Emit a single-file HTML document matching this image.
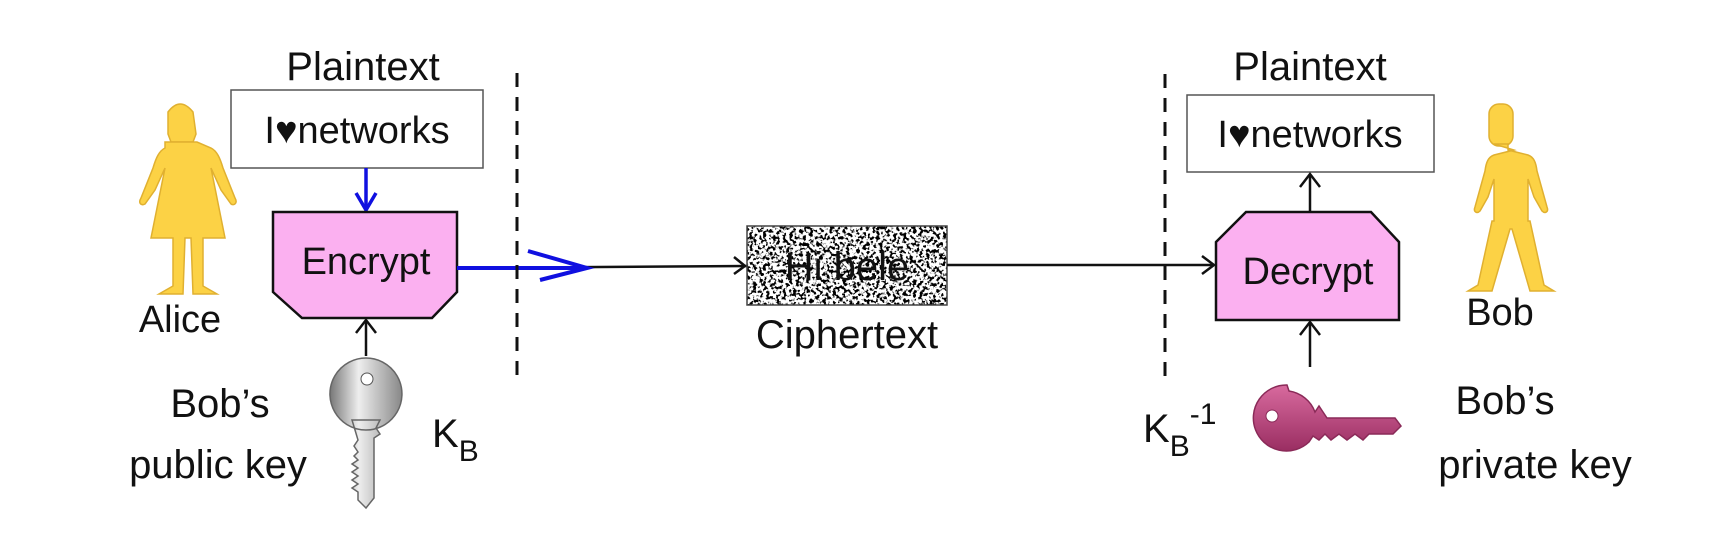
<!DOCTYPE html>
<html><head><meta charset="utf-8"><style>
html,body{margin:0;padding:0;background:#fff;width:1710px;height:544px;overflow:hidden}
text{font-family:"Liberation Sans",sans-serif;fill:#111}
</style></head><body>
<svg width="1710" height="544" viewBox="0 0 1710 544" xmlns="http://www.w3.org/2000/svg">
<defs>
<filter id="noise" x="0" y="0" width="100%" height="100%">
<feTurbulence type="fractalNoise" baseFrequency="0.3" numOctaves="2" seed="3"/>
<feColorMatrix type="matrix" values="0 0 0 0 0  0 0 0 0 0  0 0 0 0 0  0 0 0 -9 4.6"/>
</filter>
<linearGradient id="gk" x1="0" x2="1"><stop offset="0" stop-color="#777"/><stop offset="0.4" stop-color="#eee"/><stop offset="1" stop-color="#888"/></linearGradient>
<linearGradient id="pk" x1="0" y1="0" x2="0" y2="1"><stop offset="0" stop-color="#d86a9e"/><stop offset="1" stop-color="#9a2e62"/></linearGradient>
</defs>
<g font-size="40">
<!-- left -->
<text x="363" y="80" text-anchor="middle">Plaintext</text>
<rect x="231" y="90" width="252" height="78" fill="#fff" stroke="#555" stroke-width="1.5"/>
<text x="357" y="143" text-anchor="middle" font-size="38">I♥networks</text>
<line x1="366" y1="168" x2="366" y2="210" stroke="#1010e0" stroke-width="3.5"/>
<polyline points="356,193 366,210 376,193" fill="none" stroke="#1010e0" stroke-width="3.5"/>
<polygon points="273,212 457,212 457,292 432,318 302,318 273,292" fill="#fbb0f0" stroke="#111" stroke-width="2.5"/>
<text x="366" y="274" text-anchor="middle" font-size="38">Encrypt</text>
<line x1="457" y1="268" x2="747" y2="266" stroke="#111" stroke-width="2.5"/>
<line x1="457" y1="268" x2="585" y2="268" stroke="#1010e0" stroke-width="4"/>
<polyline points="528,251 587,268 540,280" fill="none" stroke="#1010e0" stroke-width="4"/>
<polyline points="734,257 745,266 734,274" fill="none" stroke="#111" stroke-width="2.5"/>
<line x1="517" y1="73" x2="517" y2="375" stroke="#111" stroke-width="3" stroke-dasharray="14,10"/>
<!-- Alice -->
<g fill="#fcd245" stroke="#e0b030" stroke-width="1.5">
<path d="M168,112 q12,-16 25,0 l3,22 l-3,8 l-22,0 l-3,-8z"/>
<path d="M165,142 l32,0 l14,6 c6,3 9,10 12,20 l12,30 c3,5 -1,8 -4,6 l-10,-14 l-10,-22 l14,70 l-22,0 l0,48 l14,8 l-24,0 l-2,-56 l-6,0 l-2,56 l-24,0 l14,-8 l0,-48 l-22,0 l14,-70 l-10,22 l-10,14 c-4,2 -7,-1 -4,-6 l12,-30 c3,-10 6,-17 12,-20z"/>
</g>
<text x="180" y="332" text-anchor="middle" font-size="38">Alice</text>
<!-- key gray -->
<line x1="366" y1="356" x2="366" y2="322" stroke="#111" stroke-width="2.5"/>
<polyline points="356,333 366,320 376,333" fill="none" stroke="#111" stroke-width="2.5"/>
<path d="M366,358 a36,36 0 1 1 -0.1,0z M352,420 l28,0 l-4,8 l4,6 l-6,4 l0,60 l-8,10 l-8,-8 l0,-8 l-6,-4 l6,-4 l-6,-4 l6,-4 l-6,-4 l6,-4 l-6,-4 l6,-4 l-4,-4 l4,-4 l-4,-6 l4,-6 z" fill="url(#gk)" stroke="#666" stroke-width="1.5"/>
<circle cx="367" cy="379" r="6" fill="#fff" stroke="#555"/>
<text x="220" y="417" text-anchor="middle" font-size="40">Bob’s</text>
<text x="218" y="478" text-anchor="middle" font-size="40">public key</text>
<text x="432" y="447" font-size="40">K<tspan font-size="30" dy="14">B</tspan></text>
<!-- middle -->
<rect x="747" y="226" width="200" height="79" fill="#fff"/>
<rect x="747" y="226" width="200" height="79" filter="url(#noise)"/>
<rect x="747" y="226" width="200" height="79" fill="none" stroke="#444" stroke-width="1.5"/>
<text x="847" y="280" text-anchor="middle" font-size="40" font-family="Liberation Serif" fill="#000">Hi bele</text>
<text x="847" y="348" text-anchor="middle">Ciphertext</text>
<line x1="947" y1="265" x2="1214" y2="265" stroke="#111" stroke-width="2.5"/>
<polyline points="1202,256 1214,265 1202,274" fill="none" stroke="#111" stroke-width="2.5"/>
<!-- right -->
<line x1="1165" y1="74" x2="1165" y2="376" stroke="#111" stroke-width="3" stroke-dasharray="14,10"/>
<text x="1310" y="80" text-anchor="middle">Plaintext</text>
<rect x="1187" y="95" width="247" height="77" fill="#fff" stroke="#555" stroke-width="1.5"/>
<text x="1310" y="147" text-anchor="middle" font-size="38">I♥networks</text>
<line x1="1310" y1="212" x2="1310" y2="175" stroke="#111" stroke-width="2.5"/>
<polyline points="1300,187 1310,174 1320,187" fill="none" stroke="#111" stroke-width="2.5"/>
<polygon points="1246,212 1371,212 1399,242 1399,320 1216,320 1216,242" fill="#fbb0f0" stroke="#111" stroke-width="2.5"/>
<text x="1308" y="284" text-anchor="middle" font-size="38">Decrypt</text>
<line x1="1310" y1="367" x2="1310" y2="323" stroke="#111" stroke-width="2.5"/>
<polyline points="1300,335 1310,322 1320,335" fill="none" stroke="#111" stroke-width="2.5"/>
<!-- Bob -->
<g fill="#fcd245" stroke="#e0b030" stroke-width="1.5">
<rect x="1489" y="104" width="24" height="42" rx="10"/>
<path d="M1494,144 l14,0 l0,6 l20,5 c6,2 8,8 9,16 l10,36 c2,5 -2,7 -5,4 l-8,-14 l-6,-18 l0,42 l2,0 l14,64 l10,6 l-24,0 l-18,-62 l-2,0 l-18,62 l-24,0 l10,-6 l14,-64 l2,0 l0,-42 l-6,18 l-8,14 c-3,3 -7,1 -5,-4 l10,-36 c1,-8 3,-14 9,-16 l20,-5z"/>
</g>
<text x="1500" y="325" text-anchor="middle" font-size="38">Bob</text>
<!-- pink key -->
<path d="M1287,385 a33,33 0 1 0 22,57 l4,-6 l6,4 l6,-6 l6,6 l8,-6 l8,6 l8,-6 l8,6 l6,-6 l24,0 l8,-8 l-6,-8 l-68,0 l-4,-6 l-4,-6 l-4,6 a33,33 0 0 0 -26,-21z" fill="url(#pk)" stroke="#8a2a58" stroke-width="1.5"/>
<circle cx="1272" cy="416" r="6" fill="#fff" stroke="#8a2a58"/>
<text x="1143" y="442" font-size="40">K<tspan font-size="30" dy="14">B</tspan><tspan font-size="30" dy="-32">-1</tspan></text>
<text x="1505" y="414" text-anchor="middle">Bob’s</text>
<text x="1535" y="478" text-anchor="middle">private key</text>
</g>
</svg>
</body></html>
